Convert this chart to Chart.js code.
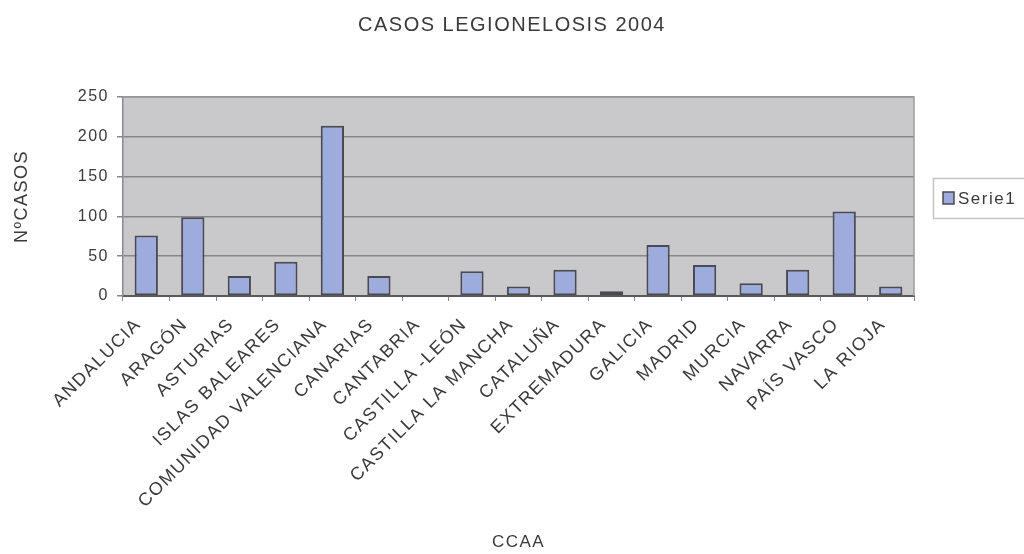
<!DOCTYPE html>
<html>
<head>
<meta charset="utf-8">
<script src="https://cdn.jsdelivr.net/npm/chart.js@4.4.1/dist/chart.umd.min.js"></script>
<style>
  html, body { margin: 0; padding: 0; background: #ffffff; }
  #wrap { width: 1024px; height: 554px; }
</style>
</head>
<body>
<div id="wrap"><canvas id="c" width="1024" height="554"></canvas></div>
<script>
const chartTitle = "CASOS LEGIONELOSIS 2004";
const xAxisTitle = "CCAA";
const yAxisTitle = "NºCASOS";
const seriesName = "Serie1";
const categories = [
  "ANDALUCIA", "ARAGÓN", "ASTURIAS", "ISLAS BALEARES", "COMUNIDAD VALENCIANA",
  "CANARIAS", "CANTABRIA", "CASTILLA -LEÓN", "CASTILLA LA MANCHA", "CATALUÑA",
  "EXTREMADURA", "GALICIA", "MADRID", "MURCIA", "NAVARRA", "PAÍS VASCO", "LA RIOJA"
];
const casos = [76, 99, 25, 43, 214, 25, 0, 31, 12, 33, 6, 64, 39, 16, 33, 106, 12];
const yTicks = [0, 50, 100, 150, 200, 250];

const FONT = "'Liberation Sans', Arial, sans-serif";
const TEXT = '#3a3a3a';
const BAR_FILL = '#9dabdd';
const BAR_EDGE = '#4a4a52';
const PLOT_BG = '#c9c9cb';
const GRID = '#878787';
const SPACING = '1.5px';

const spacingPlugin = {
  id: 'spacing',
  beforeUpdate(chart) { chart.ctx.letterSpacing = SPACING; },
  beforeDraw(chart) { chart.ctx.letterSpacing = SPACING; }
};

const plotBgPlugin = {
  id: 'plotBg',
  beforeDraw(chart) {
    const {ctx, chartArea: a} = chart;
    ctx.save();
    ctx.fillStyle = PLOT_BG;
    ctx.fillRect(a.left, a.top, a.right - a.left, a.bottom - a.top);
    ctx.restore();
  },
  beforeDatasetsDraw(chart) {
    const {ctx, chartArea: a} = chart;
    ctx.save();
    ctx.strokeStyle = '#9c9c9c';
    ctx.lineWidth = 1.5;
    ctx.beginPath();
    ctx.moveTo(a.left, a.top);
    ctx.lineTo(a.right, a.top);
    ctx.lineTo(a.right, a.bottom);
    ctx.stroke();
    ctx.restore();
  }
};

const legendPlugin = {
  id: 'boxLegend',
  afterDraw(chart) {
    const {ctx} = chart;
    const ds = chart.data.datasets[0];
    ctx.save();
    ctx.letterSpacing = SPACING;
    ctx.strokeStyle = '#c6c6c6';
    ctx.lineWidth = 1.5;
    ctx.strokeRect(933.5, 178.5, 110, 40);
    ctx.fillStyle = ds.backgroundColor;
    ctx.fillRect(943, 192, 11, 12);
    ctx.strokeStyle = ds.borderColor;
    ctx.lineWidth = 1.5;
    ctx.strokeRect(943, 192, 11, 12);
    ctx.fillStyle = TEXT;
    ctx.font = "17px " + FONT;
    ctx.textBaseline = 'middle';
    ctx.textAlign = 'left';
    ctx.fillText(ds.label, 958, 199);
    ctx.restore();
  }
};

new Chart(document.getElementById('c'), {
  type: 'bar',
  data: {
    labels: categories,
    datasets: [{
      label: seriesName,
      data: casos,
      backgroundColor: BAR_FILL,
      borderColor: BAR_EDGE,
      borderWidth: 2,
      borderSkipped: false,
      categoryPercentage: 1.0,
      barPercentage: 0.5,
      yAxisID: 'y',
      xAxisID: 'x'
    }]
  },
  options: {
    responsive: false,
    animation: false,
    devicePixelRatio: 1,
    layout: { padding: { left: 0, right: 0, top: 0, bottom: 0 } },
    plugins: {
      legend: { display: false },
      tooltip: { enabled: false },
      title: {
        display: true,
        text: chartTitle,
        color: TEXT,
        font: { family: FONT, size: 20, weight: 'normal', lineHeight: 1.2 },
        padding: { top: 13, bottom: 60 }
      }
    },
    scales: {
      x: {
        type: 'category',
        position: 'bottom',
        offset: true,
        afterFit(s) { s.height = 258; },
        grid: {
          display: true,
          offset: true,
          drawOnChartArea: false,
          drawTicks: true,
          tickLength: 5,
          color: GRID,
          lineWidth: 1
        },
        border: { display: true, color: '#5a5a5a', width: 2 },
        ticks: {
          autoSkip: false,
          minRotation: 45,
          maxRotation: 45,
          padding: 13,
          labelOffset: -8,
          color: TEXT,
          font: { family: FONT, size: 18 }
        },
        title: {
          display: true,
          text: xAxisTitle,
          color: TEXT,
          font: { family: FONT, size: 17 },
          padding: { top: 0, bottom: 1 }
        }
      },
      y: {
        type: 'linear',
        position: 'left',
        min: 0,
        max: 250,
        afterFit(s) { s.width = 123; },
        afterBuildTicks(s) { s.ticks = yTicks.map(v => ({ value: v })); },
        grid: {
          display: true,
          drawOnChartArea: true,
          drawTicks: true,
          tickLength: 6,
          color: GRID,
          lineWidth: 1.5
        },
        border: { display: true, color: '#8a8a8a', width: 1.5 },
        ticks: {
          stepSize: 50,
          padding: 8,
          color: TEXT,
          font: { family: FONT, size: 16 }
        },
        title: {
          display: true,
          text: yAxisTitle,
          color: TEXT,
          font: { family: FONT, size: 18 },
          padding: { top: 11, bottom: 0 }
        }
      },
      r: {
        type: 'linear',
        position: 'right',
        display: true,
        afterFit(s) { s.width = 110; },
        grid: { display: false, drawTicks: false },
        border: { display: false },
        ticks: { display: false }
      }
    }
  },
  plugins: [spacingPlugin, plotBgPlugin, legendPlugin]
});
</script>
</body>
</html>
